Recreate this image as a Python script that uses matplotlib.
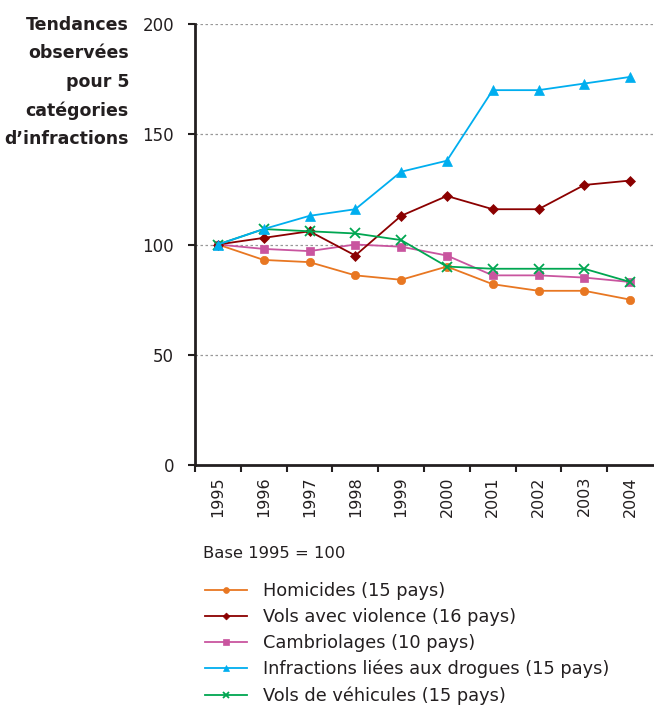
import matplotlib
matplotlib.use("Agg")
import matplotlib.pyplot as plt

plt.rcParams['font.family'] = ['DejaVu Sans']

years = ['1995', '1996', '1997', '1998', '1999', '2000', '2001', '2002', '2003', '2004']
homicides = [100, 93, 92, 86, 84, 90, 82, 79, 79, 75]
vols_violence = [100, 103, 106, 95, 113, 122, 116, 116, 127, 129]
cambriolages = [100, 98, 97, 100, 99, 95, 86, 86, 85, 83]
drogues = [100, 107, 113, 116, 133, 138, 170, 170, 173, 176]
vehicules = [100, 107, 106, 105, 102, 90, 89, 89, 89, 83]

labels = ['Homicides (15 pays)', 'Vols avec violence (16 pays)', 'Cambriolages (10 pays)',
          'Infractions liées aux drogues (15 pays)', 'Vols de véhicules (15 pays)']

text_col = '#231f20'

fig = plt.figure(figsize=(6.54, 7.07), dpi=100)
ax = fig.add_axes([195/654, 242/707, 458/654, 441/707])

x = list(range(len(years)))
# (values, colour, marker, size, z-order) -- drug offences drawn on top
styles = [
    (homicides, '#e87722', 'o', 6, 3),
    (vols_violence, '#8b0000', 'D', 5, 4),
    (cambriolages, '#c9559f', 's', 6, 3),
    (drogues, '#00aeef', '^', 7, 6),
    (vehicules, '#00a651', 'x', 7, 5),
]
handles = []
for (vals, col, mk, ms, z), lab in zip(styles, labels):
    h, = ax.plot(x, vals, color=col, marker=mk, markersize=ms, linewidth=1.3,
                 markeredgewidth=1.3 if mk == 'x' else 0.5, label=lab, zorder=z)
    handles.append(h)

ax.set_xlim(-0.5, 9.5)
ax.set_ylim(0, 200)
ax.set_yticks([0, 50, 100, 150, 200])
ax.set_xticks([i - 0.5 for i in range(len(years))])
ax.set_xticklabels([])
ax.set_xticks(x, minor=True)
ax.set_xticklabels(years, minor=True, rotation=90, fontsize=11.5, color=text_col)
ax.tick_params(axis='x', which='minor', length=0, pad=8)
ax.tick_params(axis='x', which='major', length=5, width=1.5, color=text_col)
ax.tick_params(axis='y', length=5, width=1.5, color=text_col, labelsize=12, labelcolor=text_col, pad=10)

for y in [50, 100, 150, 200]:
    ax.axhline(y, color='#999999', linestyle=(0, (2, 2)), linewidth=0.9, zorder=0)

for side in ['top', 'right']:
    ax.spines[side].set_visible(False)
for side in ['left', 'bottom']:
    ax.spines[side].set_linewidth(2)
    ax.spines[side].set_color(text_col)

title_lines = ['Tendances', 'observées', 'pour 5', 'catégories', "d’infractions"]
for i, line in enumerate(title_lines):
    fig.text(129/654, 1 - (25 + 28.5 * i)/707, line, ha='right', va='center',
             fontsize=12.5, fontweight='bold', color=text_col)

fig.text(203/654, 1 - 553/707, 'Base 1995 = 100', ha='left', va='center',
         fontsize=11.8, color=text_col)

fig.legend(handles=handles, loc='upper left', bbox_to_anchor=(205/654, 1 - 582/707),
           frameon=False, handlelength=2.36, handletextpad=0.9, markerscale=0.7,
           labelspacing=0.45, borderaxespad=0, borderpad=0,
           prop={'size': 12.8}, labelcolor=text_col)

fig.savefig('out.png', dpi=100)
